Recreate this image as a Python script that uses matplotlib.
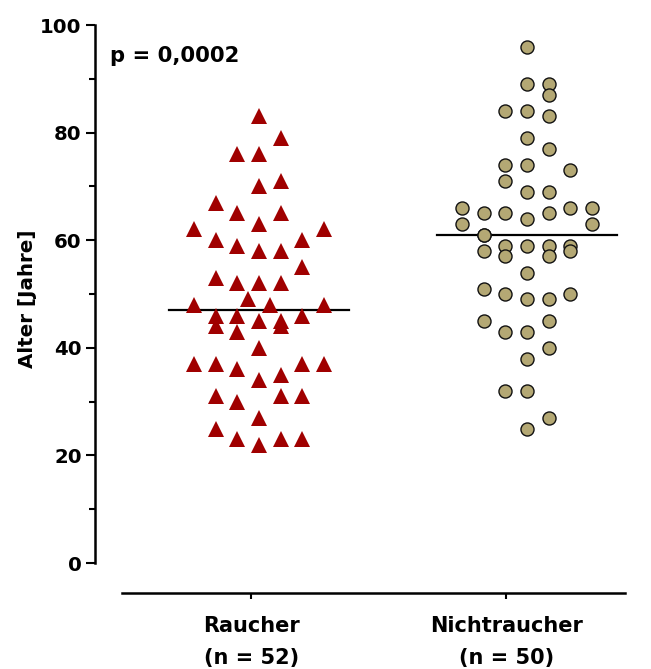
import matplotlib

matplotlib.use("Agg")
import matplotlib.pyplot as plt
import numpy as np
from matplotlib.ticker import MultipleLocator

# Ages per group; *_col is the column slot of each marker in the scatter
raucher_age = [
    83, 79, 76, 76, 70, 71, 67, 65, 65, 63, 62, 62, 60, 59, 58, 58, 60, 55,
    53, 52, 52, 52, 49, 48, 48, 48, 46, 46, 46, 45, 45, 44, 44, 43, 40, 37,
    37, 36, 37, 37, 34, 35, 31, 30, 31, 31, 27, 25, 23, 23, 23, 22,
]
raucher_col = [
    0, 1, -1, 0, 0, 1, -2, -1, 1, 0, -3, 3, -2, -1, 0, 1, 2, 2,
    -2, -1, 0, 1, -0.5, -3, 0.5, 3, -2, -1, 2, 0, 1, -2, 1, -1, 0, -3,
    -2, -1, 2, 3, 0, 1, -2, -1, 1, 2, 0, -2, -1, 1, 2, 0,
]

nicht_age = [
    96, 89, 89, 87, 84, 84, 83, 79, 77, 74, 74, 73, 71, 69, 69, 66, 66, 66,
    65, 65, 65, 64, 63, 63, 61, 61, 59, 59, 59, 59, 58, 57, 57, 58, 54, 51,
    50, 49, 49, 50, 45, 43, 43, 45, 40, 38, 32, 32, 27, 25,
]
nicht_col = [
    0, 0, 1, 1, -1, 0, 1, 0, 1, -1, 0, 2, -1, 0, 1, -3, 2, 3,
    -2, -1, 1, 0, -3, 3, -2, -2, -1, 0, 1, 2, -2, -1, 1, 2, 0, -2,
    -1, 0, 1, 2, -2, -1, 0, 1, 1, 0, -1, 0, 1, 0,
]

categories = ["Raucher\n(n = 52)", "Nichtraucher\n(n = 50)"]
p_text = "p = 0,0002"

plt.rcParams["font.family"] = ["DejaVu Sans"]
plt.rcParams["font.weight"] = "bold"

fig = plt.figure(figsize=(6.51, 6.69), dpi=100)
ax = fig.add_axes([0.1459, 0.1584, 0.8372, 0.8042])

centers = [1.031, 2.082]
step = 0.0847
half = 0.353

x_r = centers[0] + np.array(raucher_col) * step
x_n = centers[1] + np.array(nicht_col) * step

ax.plot(x_r, raucher_age, linestyle="none", marker="^", markersize=11,
        markeredgewidth=0, color="#A00000", zorder=3)
ax.plot(x_n, nicht_age, linestyle="none", marker="o", markersize=9.4,
        markeredgewidth=1.0, markeredgecolor="#111111",
        markerfacecolor="#B4A874", zorder=3)

for c, vals in zip(centers, [raucher_age, nicht_age]):
    m = np.median(vals)
    ax.plot([c - half, c + half], [m, m], color="black", linewidth=1.6, zorder=2)

ax.set_xlim(0.388, 2.525)
ax.set_ylim(0, 100)

for side in ["top", "right"]:
    ax.spines[side].set_visible(False)
ax.spines["left"].set_linewidth(1.8)
ax.spines["bottom"].set_linewidth(1.8)
ax.spines["bottom"].set_position(("outward", 21.6))
ax.spines["bottom"].set_bounds(0.494, 2.467)

ax.yaxis.set_major_locator(MultipleLocator(20))
ax.yaxis.set_minor_locator(MultipleLocator(10))
ax.tick_params(axis="y", which="major", direction="out", length=6.5, width=1.5,
               labelsize=14.2, pad=3)
ax.tick_params(axis="y", which="minor", direction="out", length=4.5, width=1.5)

ax.set_xticks([1, 2])
ax.set_xticklabels(categories, fontsize=15, fontweight="bold", linespacing=1.75)
ax.tick_params(axis="x", direction="out", length=4.3, width=1.5, pad=12)

ax.set_ylabel("Alter [Jahre]", fontsize=14.3, fontweight="bold")
ax.yaxis.set_label_coords(-0.107, 0.491)

ax.text(0.0275, 0.942, p_text, transform=ax.transAxes, fontsize=15.2,
        fontweight="bold", va="center", ha="left")

fig.savefig("out.png", dpi=100, facecolor="white")
